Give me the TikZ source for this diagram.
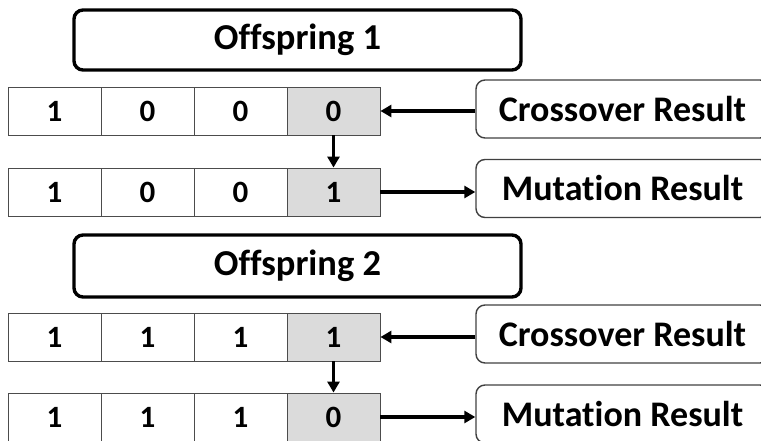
\documentclass[tikz,border=0pt]{standalone}
\usepackage{fontspec}
\setmainfont{Carlito}[Ligatures=NoCommon]
\usetikzlibrary{arrows.meta}

\tikzset{
  cell/.style={draw=black!70, line width=0.9pt, minimum width=93pt, minimum height=48pt,
    inner sep=0pt, font=\fontsize{31}{34}\selectfont\bfseries},
  flip/.style={cell, fill=black!14},
  title/.style={draw, line width=3.4pt, rounded corners=9pt, minimum width=447pt,
    minimum height=60pt, inner sep=0pt, font=\fontsize{36.5}{40}\selectfont\bfseries},
  result/.style={draw=black!75, line width=1.4pt, rounded corners=9pt, minimum width=293pt,
    minimum height=58pt, inner sep=0pt, font=\fontsize{36}{40}\selectfont\bfseries},
  link/.style={line width=3.3pt, -{Triangle[length=11pt,width=12pt]}}
}

\begin{document}
\begin{tikzpicture}[x=1pt,y=-1pt]
  \useasboundingbox (0,0) rectangle (761,441);
  \clip (0,0) rectangle (761,441);

  % headers
  \node[title] (off1) at (297.5,40) {Offspring 1};
  \node[title, minimum height=62pt] (off2) at (297.5,266) {Offspring 2};

  % chromosomes, last gene is the mutated one
  \foreach \r/\y/\bits in {1/111/{1,0,0,0},2/192/{1,0,0,1},3/337/{1,1,1,1},4/417/{1,1,1,0}}
    \foreach \b [count=\i] in \bits {
      \def\sty{cell}\ifnum\i=4 \def\sty{flip}\fi
      \node[\sty] (c\r\i) at ({8+93*(\i-0.5)},\y) {\b};
    }

  % result labels
  \node[result] (cr1) at (622.5,109) {Crossover Result};
  \node[result] (mu1) at (622.5,188.5) {Mutation Result};
  \node[result] (cr2) at (622.5,334) {Crossover Result};
  \node[result] (mu2) at (622.5,414) {Mutation Result};

  % arrows
  \draw[link] (cr1.west |- c14.east) -- (c14.east);
  \draw[link] (c14.south) -- (c24.north);
  \draw[link] (c24.east) -- (c24.east -| mu1.west);
  \draw[link] (cr2.west |- c34.east) -- (c34.east);
  \draw[link] (c34.south) -- (c44.north);
  \draw[link] (c44.east) -- (c44.east -| mu2.west);
\end{tikzpicture}
\end{document}
